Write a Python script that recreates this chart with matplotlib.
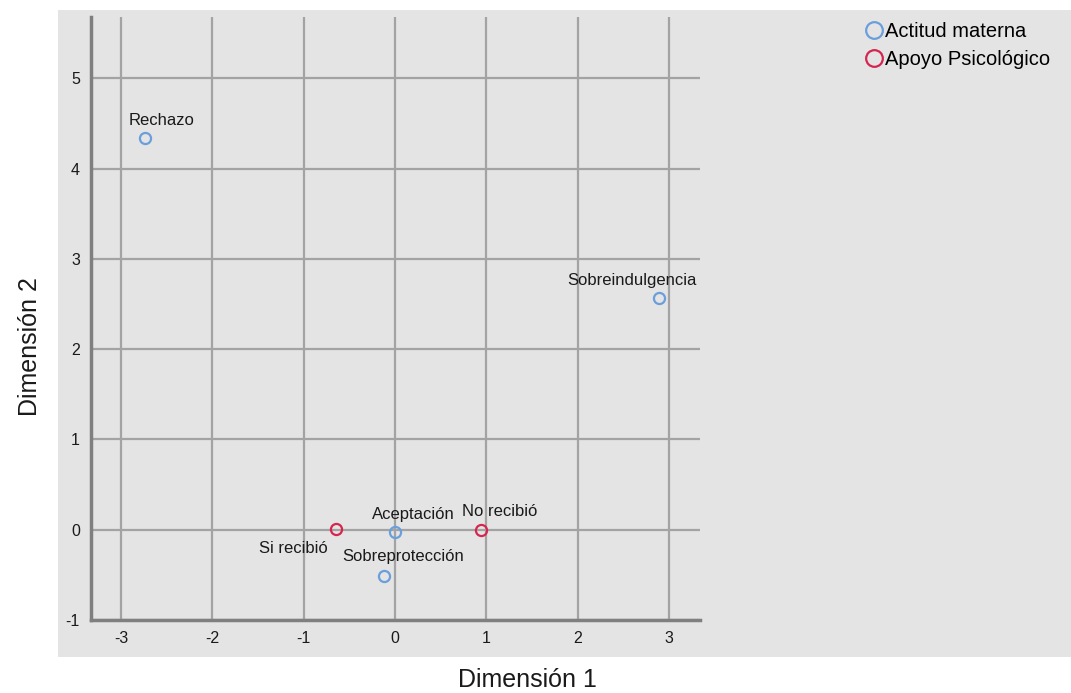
import matplotlib.pyplot as plt
from matplotlib.patches import Rectangle
from matplotlib.lines import Line2D

plt.rcParams['font.family'] = ['Liberation Sans', 'DejaVu Sans']
plt.rcParams['axes.unicode_minus'] = False

# puntos de categoría (coordenadas de fila y columna)
actitud_labels = ['Rechazo', 'Sobreindulgencia', 'Aceptación', 'Sobreprotección']
actitud_x = [-2.74, 2.89, 0.0, -0.12]
actitud_y = [4.34, 2.57, -0.03, -0.51]

apoyo_labels = ['Si recibió', 'No recibió']
apoyo_x = [-0.65, 0.94]
apoyo_y = [0.01, 0.0]

xticks = [-3, -2, -1, 0, 1, 2, 3]
yticks = [-1, 0, 1, 2, 3, 4, 5]

BLUE = '#6a9fdc'
RED = '#d4264f'
BG = '#e4e4e4'
GRID = '#a3a3a3'

W, H = 1071, 693
fig = plt.figure(figsize=(W / 100, H / 100), dpi=100)

# panel gris de fondo
panel = Rectangle((58 / W, 1 - 657 / H), 1 - 58 / W, (657 - 10) / H,
                  transform=fig.transFigure, facecolor=BG,
                  edgecolor='none', zorder=-5)
fig.add_artist(panel)

ax = fig.add_axes([91 / W, 1 - 620 / H, (700 - 91) / W, (620 - 17) / H])
ax.set_zorder(2)
ax.set_facecolor(BG)
ax.set_xlim(-3.33, 3.34)
ax.set_ylim(-1, 5.68)

ax.set_xticks(xticks)
ax.set_yticks(yticks)
ax.grid(True, color=GRID, linewidth=1.6)
ax.set_axisbelow(True)
for s in ['top', 'right']:
    ax.spines[s].set_visible(False)
for s in ['left', 'bottom']:
    ax.spines[s].set_color('#7f7f7f')
    ax.spines[s].set_linewidth(2.5)
ax.tick_params(length=0, labelsize=11.5, pad=8, colors='#1a1a1a')

ax.plot(actitud_x, actitud_y, 'o', ms=8, mfc='none', mec=BLUE, mew=1.6,
        linestyle='none', zorder=3)
ax.plot(apoyo_x, apoyo_y, 'o', ms=8, mfc='none', mec=RED, mew=1.6,
        linestyle='none', zorder=3)

# etiquetas de puntos (desplazamientos en píxeles)
offsets = {
    'Rechazo': (17, 17),
    'Sobreindulgencia': (-27, 17),
    'Aceptación': (18, 18),
    'Sobreprotección': (19, 19),
    'Si recibió': (-42, -20),
    'No recibió': (19, 18),
}
for lab, x, y in zip(actitud_labels + apoyo_labels, actitud_x + apoyo_x,
                     actitud_y + apoyo_y):
    dx, dy = offsets[lab]
    ax.annotate(lab, (x, y), xytext=(dx, dy), textcoords='offset pixels',
                ha='center', va='center', fontsize=12, color='#1a1a1a')

fig.text(527 / W, 1 - 680 / H, 'Dimensión 1', ha='center', va='center',
         fontsize=18, color='#1a1a1a')
fig.text(30 / W, 1 - 347 / H, 'Dimensión 2', ha='center', va='center',
         rotation=90, fontsize=18, color='#1a1a1a')

handles = [
    Line2D([], [], marker='o', linestyle='none', ms=12, mfc='none', mec=BLUE, mew=1.6),
    Line2D([], [], marker='o', linestyle='none', ms=12, mfc='none', mec=RED, mew=1.6),
]
fig.legend(handles, ['Actitud materna', 'Apoyo Psicológico'],
           loc='upper left', bbox_to_anchor=(852 / W, 1 - 6 / H),
           frameon=False, fontsize=14.5, handlelength=0.6, handletextpad=0.25,
           labelspacing=0.45, borderpad=0.3)

fig.savefig('out.png', dpi=100)
